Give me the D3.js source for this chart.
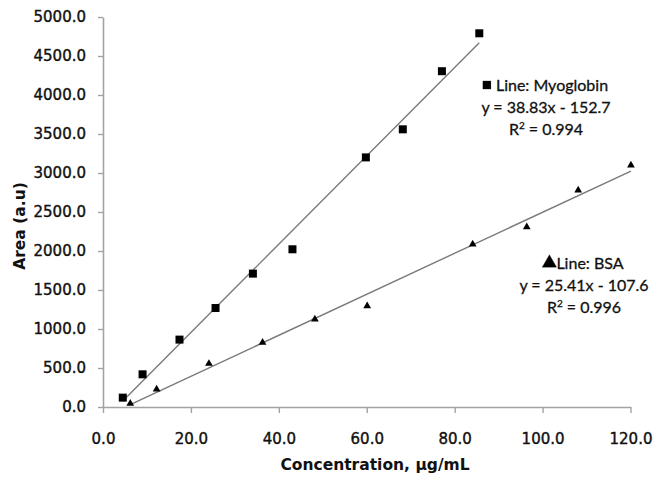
<!DOCTYPE html>
<html>
<head>
<meta charset="utf-8">
<script src="https://cdn.jsdelivr.net/npm/d3@7"></script>
<style>
  html, body { margin: 0; padding: 0; background: #fff; }
  svg { display: block; }
</style>
</head>
<body>
<svg id="chart" width="654" height="483"></svg>
<script>
// ---- data ----
const myoX = [4.5, 9.0, 17.4, 25.6, 34.1, 43.1, 59.8, 68.2, 77.1, 85.6];
const myoY = [120, 419, 864, 1269, 1710, 2022, 3200, 3560, 4305, 4791];
const bsaX = [6.2, 12.2, 24.1, 36.3, 48.2, 60.1, 84.1, 96.4, 108.1, 120.1];
const bsaY = [44, 227, 556, 826, 1124, 1295, 2086, 2308, 2778, 3099];
const xTicks = [0, 20, 40, 60, 80, 100, 120];
const yTicks = [0, 500, 1000, 1500, 2000, 2500, 3000, 3500, 4000, 4500, 5000];
const myoLabel = ["Line: Myoglobin", "y = 38.83x - 152.7", "0.994"];
const bsaLabel = ["Line: BSA", "y = 25.41x - 107.6", "0.996"];
const xTitle = "Concentration, \u00b5g/mL";
const yTitle = "Area (a.u)";

// ---- layout ----
const svg = d3.select("#chart");
const x = d3.scaleLinear().domain([0, 120]).range([103, 630.5]);
const y = d3.scaleLinear().domain([0, 5000]).range([407, 17]);
const axisColor = "#a3a3a3";

// axes
const xAxis = svg.append("g").attr("transform", `translate(0,${y(0)})`)
  .call(d3.axisBottom(x).tickValues(xTicks).tickFormat(d3.format(".1f"))
    .tickSizeInner(6).tickSizeOuter(0).tickPadding(20));
const yAxis = svg.append("g").attr("transform", `translate(${x(0)},0)`)
  .call(d3.axisLeft(y).tickValues(yTicks).tickFormat(d3.format(".1f"))
    .tickSizeInner(5).tickSizeOuter(0).tickPadding(12));
[xAxis, yAxis].forEach(g => {
  g.select(".domain").attr("stroke", axisColor).attr("stroke-width", 1.6);
  g.selectAll(".tick line").attr("stroke", axisColor).attr("stroke-width", 1.4);
  g.selectAll(".tick text").attr("fill", "#111")
    .attr("stroke", "#111").attr("stroke-width", 0.4)
    .style("font-family", "'DejaVu Sans', Verdana, sans-serif")
    .style("font-size", "15px");
});

// axis titles
svg.append("text").attr("x", 375).attr("y", 470).attr("text-anchor", "middle")
  .style("font-family", "'DejaVu Sans', Verdana, sans-serif")
  .style("font-size", "15.5px").style("font-weight", "bold").attr("fill", "#111")
  .text(xTitle);
svg.append("text").attr("transform", "translate(25,226) rotate(-90)")
  .attr("text-anchor", "middle")
  .style("font-family", "'DejaVu Sans', Verdana, sans-serif")
  .style("font-size", "15.5px").style("font-weight", "bold").attr("fill", "#111")
  .text(yTitle);

// trendlines (least squares fit of the data)
function fit(xs, ys) {
  const n = xs.length, mx = d3.mean(xs), my = d3.mean(ys);
  let sxy = 0, sxx = 0;
  for (let i = 0; i < n; i++) { sxy += (xs[i] - mx) * (ys[i] - my); sxx += (xs[i] - mx) ** 2; }
  const b = sxy / sxx, a = my - b * mx;
  const x0 = d3.min(xs), x1 = d3.max(xs);
  return [[x0, a + b * x0], [x1, a + b * x1]];
}
const line = d3.line().x(d => x(d[0])).y(d => y(d[1]));
[[myoX, myoY], [bsaX, bsaY]].forEach(([xs, ys]) => {
  svg.append("path").attr("d", line(fit(xs, ys)))
    .attr("fill", "none").attr("stroke", "#7a7a7a").attr("stroke-width", 1.4);
});

// markers
svg.append("g").selectAll("rect").data(d3.zip(myoX, myoY)).join("rect")
  .attr("x", d => x(d[0]) - 4).attr("y", d => y(d[1]) - 4)
  .attr("width", 8).attr("height", 8).attr("fill", "#000");
const tri = d3.symbol().type(d3.symbolTriangle).size(26);
svg.append("g").selectAll("path").data(d3.zip(bsaX, bsaY)).join("path")
  .attr("transform", d => `translate(${x(d[0])},${y(d[1])})`)
  .attr("d", tri()).attr("fill", "#000");

// annotations
function annot(lines, cx, y0, marker) {
  const g = svg.append("g")
    .style("font-family", "Lato, 'Open Sans', sans-serif")
    .style("font-size", "16px").attr("fill", "#111")
    .attr("stroke", "#111").attr("stroke-width", 0.3);
  const t0 = g.append("text").attr("x", cx + 6).attr("y", y0).attr("text-anchor", "middle").text(lines[0]);
  const w = t0.node().getComputedTextLength();
  const mx = cx + 6 - w / 2 - (marker === "square" ? 9 : 7);
  if (marker === "square") {
    g.append("rect").attr("x", mx - 4).attr("y", y0 - 10).attr("width", 8).attr("height", 8).attr("fill", "#000");
  } else {
    g.append("path").attr("transform", `translate(${mx},${y0 - 6})`)
      .attr("d", d3.symbol().type(d3.symbolTriangle).size(90)()).attr("fill", "#000");
  }
  g.append("text").attr("x", cx).attr("y", y0 + 22).attr("text-anchor", "middle").text(lines[1]);
  const r = g.append("text").attr("x", cx).attr("y", y0 + 44).attr("text-anchor", "middle");
  r.append("tspan").text("R");
  r.append("tspan").attr("dy", -6).style("font-size", "10px").text("2");
  r.append("tspan").attr("dy", 6).text(" = " + lines[2]);
}
annot(myoLabel, 546, 91, "square");
annot(bsaLabel, 584, 269, "triangle");
</script>
</body>
</html>
